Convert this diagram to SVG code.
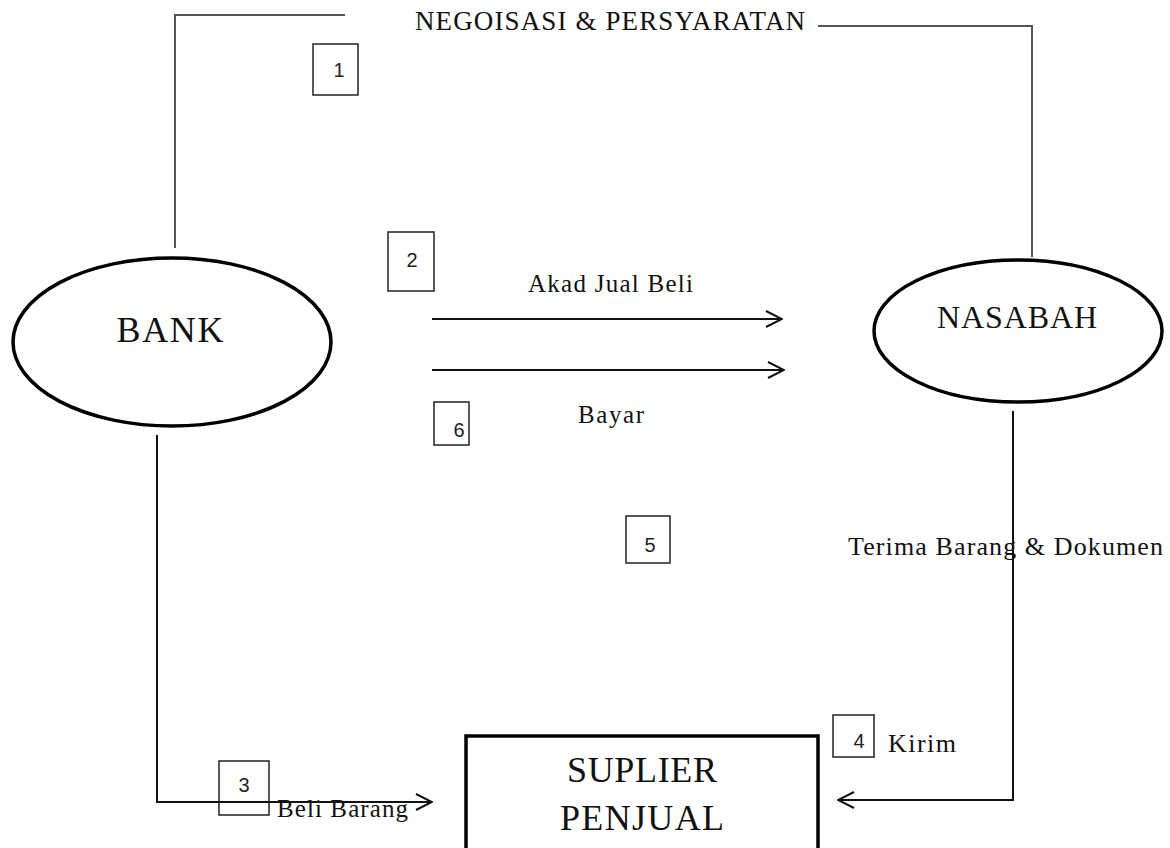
<svg xmlns="http://www.w3.org/2000/svg" width="1170" height="848" viewBox="0 0 1170 848">
<style>
.serif{font-family:"Liberation Serif","Times New Roman",serif;fill:#111}
.num{font-family:"Liberation Sans",Arial,sans-serif;font-size:20px;fill:#222;text-anchor:middle}
.nbox{fill:none;stroke:#222;stroke-width:1.5}
.conn{fill:none;stroke:#111;stroke-width:2}
.gray{fill:none;stroke:#555;stroke-width:2}
.node{fill:#fff;stroke:#000;stroke-width:3.5}
</style>
<defs>
<marker id="arr" viewBox="0 0 18 18" refX="17" refY="9" markerWidth="18" markerHeight="18" markerUnits="userSpaceOnUse" orient="auto">
<path d="M1,1 L17,9 L1,17" fill="none" stroke="#111" stroke-width="2"/>
</marker>
</defs>
<rect width="1170" height="848" fill="#fff"/>
<g id="connectors">
<polyline class="gray" points="175,248 175,15 345,15"/>
<polyline class="gray" points="818,26 1032,26 1032,257"/>
<line class="conn" x1="432" y1="319" x2="782" y2="319" marker-end="url(#arr)"/>
<line class="conn" x1="432" y1="370" x2="784" y2="370" marker-end="url(#arr)"/>
<polyline class="conn" points="157,435 157,802 432,802" marker-end="url(#arr)"/>
<polyline class="conn" points="1013,411 1013,800 838,800" marker-end="url(#arr)"/>
</g>
<g id="labels">
<text class="serif" x="415" y="30" font-size="27" textLength="390" lengthAdjust="spacing">NEGOISASI &amp; PERSYARATAN</text>
<text class="serif" x="528" y="292" font-size="25" textLength="165" lengthAdjust="spacing">Akad Jual Beli</text>
<text class="serif" x="578" y="423" font-size="25" textLength="66" lengthAdjust="spacing">Bayar</text>
<text class="serif" x="848" y="555" font-size="26" textLength="315" lengthAdjust="spacing">Terima Barang &amp; Dokumen</text>
<text class="serif" x="888" y="752" font-size="26" textLength="68" lengthAdjust="spacing">Kirim</text>
<text class="serif" x="277" y="817" font-size="25" textLength="131" lengthAdjust="spacing">Beli Barang</text>
</g>
<g id="step1"><rect class="nbox" x="313" y="44" width="45" height="51"/><text class="num" x="339" y="77">1</text></g>
<g id="step2"><rect class="nbox" x="388" y="232" width="46" height="59"/><text class="num" x="412" y="267">2</text></g>
<g id="step3"><rect class="nbox" x="219" y="761" width="50" height="54"/><text class="num" x="244" y="792">3</text></g>
<g id="step4"><rect class="nbox" x="833" y="715" width="41" height="42"/><text class="num" x="859" y="748">4</text></g>
<g id="step5"><rect class="nbox" x="626" y="516" width="44" height="47"/><text class="num" x="650" y="552">5</text></g>
<g id="step6"><rect class="nbox" x="434" y="402" width="35" height="43"/><text class="num" x="459" y="437">6</text></g>
<g id="bank">
<ellipse class="node" cx="172" cy="342" rx="159" ry="84"/>
<text class="serif" x="170" y="342" font-size="36" text-anchor="middle" textLength="107" lengthAdjust="spacing">BANK</text>
</g>
<g id="nasabah">
<ellipse class="node" cx="1018" cy="331" rx="144" ry="71"/>
<text class="serif" x="1017" y="328" font-size="32" text-anchor="middle" textLength="160" lengthAdjust="spacing">NASABAH</text>
</g>
<g id="suplier">
<rect class="node" x="466" y="736" width="352" height="130" stroke-width="4"/>
<text class="serif" x="642" y="782" font-size="36" text-anchor="middle" textLength="150" lengthAdjust="spacing">SUPLIER</text>
<text class="serif" x="642" y="830" font-size="36" text-anchor="middle" textLength="164" lengthAdjust="spacing">PENJUAL</text>
</g>
</svg>
